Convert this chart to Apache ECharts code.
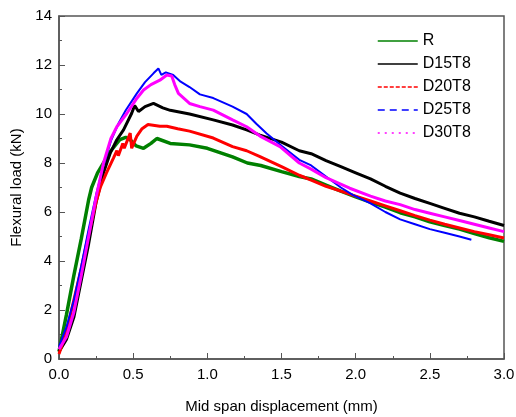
<!DOCTYPE html>
<html>
<head>
<meta charset="utf-8">
<script src="https://cdn.jsdelivr.net/npm/echarts@6/dist/echarts.min.js"></script>
<style>
  html, body { margin: 0; padding: 0; background: #fff; }
  #main { width: 516px; height: 417px; }
</style>
</head>
<body>
<div id="main"></div>
<script>
// displacement (mm) / load (kN)
const xR = [0, 0.05, 0.1, 0.15, 0.2, 0.22, 0.26, 0.3, 0.35, 0.41, 0.45, 0.48, 0.52, 0.57, 0.62, 0.66, 0.75, 0.88, 1.0, 1.17, 1.27, 1.36, 1.5, 1.62, 1.7, 1.8, 1.9, 2.0, 2.1, 2.2, 2.3, 2.4, 2.5, 2.6, 2.7, 2.8, 2.9, 3.0]
const loadR = [0.3, 1.8, 3.4, 4.9, 6.5, 7.0, 7.6, 8.0, 8.5, 8.95, 9.05, 8.95, 8.7, 8.6, 8.8, 9.0, 8.8, 8.74, 8.6, 8.25, 8.0, 7.9, 7.65, 7.45, 7.35, 7.1, 6.85, 6.62, 6.4, 6.2, 5.97, 5.8, 5.6, 5.45, 5.3, 5.12, 4.95, 4.8]

const xD15 = [0, 0.05, 0.1, 0.15, 0.2, 0.25, 0.3, 0.345, 0.39, 0.435, 0.49, 0.51, 0.536, 0.58, 0.637, 0.7, 0.75, 0.88, 1.04, 1.17, 1.265, 1.355, 1.5, 1.62, 1.7, 1.8, 1.9, 2.0, 2.1, 2.2, 2.3, 2.4, 2.5, 2.6, 2.7, 2.8, 2.9, 3.0]
const loadD15 = [0.3, 0.8, 1.7, 3.2, 4.7, 6.4, 7.6, 8.4, 8.95, 9.35, 10.03, 10.35, 10.1, 10.3, 10.43, 10.25, 10.15, 10.0, 9.76, 9.55, 9.35, 9.14, 8.85, 8.5, 8.38, 8.1, 7.85, 7.6, 7.35, 7.05, 6.77, 6.55, 6.35, 6.15, 5.95, 5.8, 5.62, 5.45]

const xD20 = [0, 0.05, 0.1, 0.15, 0.2, 0.25, 0.278, 0.32, 0.367, 0.39, 0.4, 0.43, 0.44, 0.48, 0.49, 0.5, 0.525, 0.56, 0.6, 0.68, 0.727, 0.8, 0.88, 1.04, 1.17, 1.265, 1.355, 1.5, 1.62, 1.7, 1.8, 1.9, 2.0, 2.1, 2.2, 2.3, 2.4, 2.5, 2.6, 2.7, 2.8, 2.9, 3.0]
const loadD20 = [0.2, 1.1, 2.4, 3.7, 5.1, 6.4, 7.0, 7.6, 8.2, 8.5, 8.3, 8.8, 8.6, 9.22, 8.6, 8.75, 9.1, 9.4, 9.57, 9.5, 9.5, 9.4, 9.3, 9.02, 8.67, 8.5, 8.26, 7.85, 7.5, 7.3, 7.05, 6.85, 6.65, 6.45, 6.25, 6.05, 5.85, 5.67, 5.5, 5.35, 5.2, 5.07, 4.94]

const xD25 = [0, 0.05, 0.1, 0.15, 0.2, 0.25, 0.3, 0.35, 0.4, 0.45, 0.525, 0.58, 0.637, 0.67, 0.69, 0.72, 0.77, 0.82, 0.88, 0.95, 1.04, 1.17, 1.265, 1.33, 1.4, 1.5, 1.62, 1.7, 1.8, 1.9, 1.98, 2.1, 2.2, 2.3, 2.4, 2.5, 2.6, 2.7, 2.78]
const loadD25 = [0.5, 1.3, 2.4, 3.8, 5.3, 6.7, 7.9, 8.9, 9.6, 10.15, 10.84, 11.3, 11.66, 11.86, 11.6, 11.7, 11.59, 11.32, 11.1, 10.8, 10.65, 10.3, 10.0, 9.6, 9.2, 8.7, 8.13, 7.9, 7.45, 7.0, 6.7, 6.35, 6.0, 5.7, 5.5, 5.3, 5.15, 5.0, 4.87]

const xD30 = [0, 0.05, 0.1, 0.15, 0.2, 0.25, 0.3, 0.35, 0.39, 0.458, 0.52, 0.57, 0.62, 0.68, 0.727, 0.76, 0.78, 0.805, 0.88, 0.95, 1.04, 1.17, 1.265, 1.355, 1.49, 1.62, 1.7, 1.8, 1.96, 2.1, 2.2, 2.3, 2.4, 2.5, 2.6, 2.7, 2.8, 2.9, 3.0]
const loadD30 = [0.4, 0.9, 1.9, 3.4, 5.0, 6.6, 8.0, 9.0, 9.48, 10.03, 10.6, 10.98, 11.2, 11.38, 11.59, 11.55, 11.2, 10.84, 10.43, 10.3, 10.16, 9.76, 9.48, 9.1, 8.67, 8.0, 7.75, 7.4, 6.97, 6.65, 6.45, 6.3, 6.1, 5.95, 5.8, 5.65, 5.5, 5.35, 5.2]

const names = ['R', 'D15T8', 'D20T8', 'D25T8', 'D30T8']
const colors = ['#008000', '#000000', '#ff0000', '#0000ff', '#ff00ff']
const legendDash = ['solid', 'solid', [4, 2], [7, 5], [2, 5]]
const lineWidths = [3.5, 3, 3, 2, 3]
const xs = [xR, xD15, xD20, xD25, xD30]
const ys = [loadR, loadD15, loadD20, loadD25, loadD30]

const chart = echarts.init(document.getElementById('main'))
const font = 'Liberation Sans, Arial, sans-serif'

const option = {
  backgroundColor: '#fff',
  animation: false,
  grid: {
    left: 59, right: 12, top: 16, bottom: 58,
    outerBoundsMode: 'none',
    containLabel: false,
    show: true,
    borderColor: '#555',
    borderWidth: 1.5,
  },
  legend: {
    orient: 'vertical',
    left: 377,
    top: 33,
    padding: 0,
    itemWidth: 40,
    itemHeight: 14,
    itemGap: 7,
    textStyle: { fontFamily: font, fontSize: 16, color: '#000' },
    data: names.map((n, i) => ({
      name: n,
      itemStyle: { opacity: 0 },
      lineStyle: { width: 1.5, type: legendDash[i], color: colors[i] },
    })),
  },
  xAxis: {
    type: 'value',
    min: 0,
    max: 3,
    interval: 0.5,
    name: 'Mid span displacement (mm)',
    nameLocation: 'middle',
    nameGap: 40,
    nameTextStyle: { fontFamily: font, fontSize: 15, color: '#000' },
    axisLine: { show: true, lineStyle: { color: '#555', width: 1.5 } },
    axisTick: { show: true, inside: true, length: 6, lineStyle: { color: '#555' } },
    minorTick: { show: true, splitNumber: 2, length: 3, lineStyle: { color: '#555' } },
    axisLabel: {
      margin: 8,
      fontFamily: font, fontSize: 15, color: '#000',
      formatter: (v) => v.toFixed(1),
    },
    splitLine: { show: false },
  },
  yAxis: {
    type: 'value',
    min: 0,
    max: 14,
    interval: 2,
    name: 'Flexural load (kN)',
    nameLocation: 'middle',
    nameGap: 31,
    nameTextStyle: { fontFamily: font, fontSize: 15, color: '#000' },
    axisLine: { show: true, lineStyle: { color: '#555', width: 1.5 } },
    axisTick: { show: true, inside: true, length: 6, lineStyle: { color: '#555' } },
    minorTick: { show: true, splitNumber: 2, length: 3, lineStyle: { color: '#555' } },
    axisLabel: { margin: 7, fontFamily: font, fontSize: 15, color: '#000' },
    splitLine: { show: false },
  },
  series: names.map((n, i) => ({
    name: n,
    type: 'line',
    symbol: 'none',
    data: xs[i].map((x, k) => [x, ys[i][k]]),
    lineStyle: { color: colors[i], width: lineWidths[i] },
    itemStyle: { color: colors[i] },
  })),
}
chart.setOption(option)
</script>
</body>
</html>
